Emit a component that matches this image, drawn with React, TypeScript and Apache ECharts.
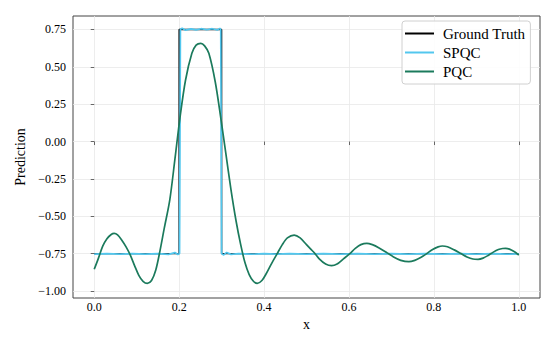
import React, { useEffect, useRef } from "react";
import * as echarts from "echarts";

const xTicks = [0, 0.2, 0.4, 0.6, 0.8, 1.0];
const yTicks = [-1.0, -0.75, -0.5, -0.25, 0.0, 0.25, 0.5, 0.75];

const groundTruth: [number, number][] = [
  [0, -0.75], [0.2, -0.75], [0.2, 0.75], [0.3, 0.75], [0.3, -0.75], [1.0, -0.75],
];

const spqc: [number, number][] = [
  [0, -0.753], [0.03, -0.75], [0.06, -0.754], [0.09, -0.75], [0.12, -0.754],
  [0.15, -0.75], [0.175, -0.755], [0.19, -0.743], [0.197, -0.756], [0.201, -0.75],
  [0.203, 0.752], [0.207, 0.758], [0.215, 0.745], [0.228, 0.754], [0.24, 0.747],
  [0.252, 0.755], [0.265, 0.748], [0.278, 0.755], [0.29, 0.746], [0.296, 0.757],
  [0.298, 0.75], [0.3, -0.75], [0.305, -0.759], [0.312, -0.742], [0.322, -0.755],
  [0.34, -0.75], [0.37, -0.754], [0.4, -0.75], [0.43, -0.754], [0.46, -0.75],
  [0.5, -0.754], [0.54, -0.75], [0.58, -0.754], [0.62, -0.75], [0.66, -0.754],
  [0.7, -0.75], [0.74, -0.754], [0.78, -0.75], [0.82, -0.754], [0.86, -0.75],
  [0.9, -0.754], [0.94, -0.75], [0.97, -0.754], [1.0, -0.752],
];

const pqc: [number, number][] = [
  [0.0, -0.855], [0.01, -0.78], [0.02, -0.7], [0.03, -0.65], [0.04, -0.622],
  [0.047, -0.615], [0.055, -0.625], [0.065, -0.66], [0.075, -0.705], [0.085, -0.76],
  [0.095, -0.83], [0.105, -0.895], [0.115, -0.935], [0.125, -0.949], [0.135, -0.93],
  [0.145, -0.86], [0.155, -0.73], [0.165, -0.58], [0.178, -0.39], [0.19, -0.12],
  [0.202, 0.16], [0.215, 0.41], [0.23, 0.59], [0.24, 0.645], [0.251, 0.657],
  [0.26, 0.64], [0.27, 0.59], [0.285, 0.4], [0.298, 0.16], [0.31, -0.08],
  [0.322, -0.32], [0.334, -0.53], [0.345, -0.69], [0.355, -0.81], [0.365, -0.89],
  [0.375, -0.935], [0.384, -0.949], [0.395, -0.93], [0.405, -0.885], [0.418, -0.815],
  [0.431, -0.75], [0.443, -0.69], [0.455, -0.645], [0.471, -0.626], [0.485, -0.645],
  [0.5, -0.69], [0.51, -0.72], [0.52, -0.75], [0.53, -0.785], [0.545, -0.82],
  [0.559, -0.831], [0.572, -0.82], [0.587, -0.785], [0.602, -0.75], [0.615, -0.715],
  [0.628, -0.69], [0.642, -0.681], [0.655, -0.69], [0.67, -0.71], [0.69, -0.745],
  [0.705, -0.772], [0.722, -0.795], [0.741, -0.804], [0.755, -0.795], [0.77, -0.775],
  [0.783, -0.75], [0.797, -0.722], [0.81, -0.705], [0.82, -0.699], [0.832, -0.704],
  [0.848, -0.725], [0.864, -0.75], [0.878, -0.772], [0.892, -0.786], [0.904, -0.788],
  [0.916, -0.78], [0.928, -0.762], [0.94, -0.74], [0.952, -0.723], [0.962, -0.716],
  [0.969, -0.715], [0.978, -0.72], [0.99, -0.738], [1.0, -0.76],
];

const FONT = "Liberation Serif";

export default function App() {
  const ref = useRef<HTMLDivElement>(null);
  useEffect(() => {
    if (!ref.current) return;
    const chart = echarts.init(ref.current, null, { renderer: "svg" });
    chart.setOption({
      animation: false,
      backgroundColor: "#ffffff",
      grid: {
        left: 73,
        right: 15,
        top: 16,
        bottom: 49,
        show: true,
        borderColor: "#444",
        borderWidth: 1,
        backgroundColor: "transparent",
      },
      legend: {
        orient: "vertical",
        left: 402,
        top: 21,
        padding: [5, 5, 5, 3],
        icon: "rect",
        itemWidth: 29,
        itemHeight: 2,
        itemGap: 4,
        backgroundColor: "rgba(255,255,255,0.85)",
        borderColor: "#d0d0d0",
        borderWidth: 1,
        borderRadius: 3,
        data: ["Ground Truth", "SPQC", "PQC"],
        textStyle: {
          fontFamily: FONT,
          fontSize: 15,
          color: "#000",
          lineHeight: 14,
          padding: [0, 0, 0, 4],
        },
      },
      xAxis: {
        type: "value",
        min: -0.05,
        max: 1.05,
        name: "x",
        nameLocation: "middle",
        nameGap: 18,
        nameTextStyle: { fontFamily: FONT, fontSize: 14, color: "#000" },
        axisLine: { show: false },
        axisTick: {
          show: true,
          length: 3.5,
          lineStyle: { color: "#444", width: 0.8 },
          customValues: xTicks,
        },
        axisLabel: {
          fontFamily: FONT,
          fontSize: 12,
          color: "#000",
          margin: 3,
          customValues: xTicks,
          formatter: (v: number) => v.toFixed(1).replace("-", "\u2212"),
        },
        splitLine: { show: true, lineStyle: { color: "#e8e8e8", width: 0.8 } },
      },
      yAxis: {
        type: "value",
        min: -1.047,
        max: 0.84,
        name: "Prediction",
        nameLocation: "middle",
        nameGap: 43,
        nameTextStyle: { fontFamily: FONT, fontSize: 14, color: "#000" },
        axisLine: { show: false },
        axisTick: {
          show: true,
          length: 3.5,
          lineStyle: { color: "#444", width: 0.8 },
          customValues: yTicks,
        },
        axisLabel: {
          fontFamily: FONT,
          fontSize: 12,
          color: "#000",
          margin: 7,
          customValues: yTicks,
          formatter: (v: number) => v.toFixed(2).replace("-", "\u2212"),
        },
        splitLine: { show: true, lineStyle: { color: "#e8e8e8", width: 0.8 } },
      },
      series: [
        {
          name: "Ground Truth",
          type: "line",
          data: groundTruth,
          symbol: "none",
          color: "#000000",
          lineStyle: { color: "#000000", width: 1.4 },
        },
        {
          name: "SPQC",
          type: "line",
          data: spqc,
          symbol: "none",
          color: "#52c7ee",
          lineStyle: { color: "#52c7ee", width: 1.7, opacity: 1 },
        },
        {
          name: "PQC",
          type: "line",
          data: pqc,
          symbol: "none",
          smooth: 0.3,
          color: "#1b7a5c",
          lineStyle: { color: "#1b7a5c", width: 1.7 },
        },
      ],
    });
    return () => chart.dispose();
  }, []);
  return (
    <div
      ref={ref}
      style={{ position: "fixed", left: 0, top: 0, width: 555, height: 347 }}
    />
  );
}
